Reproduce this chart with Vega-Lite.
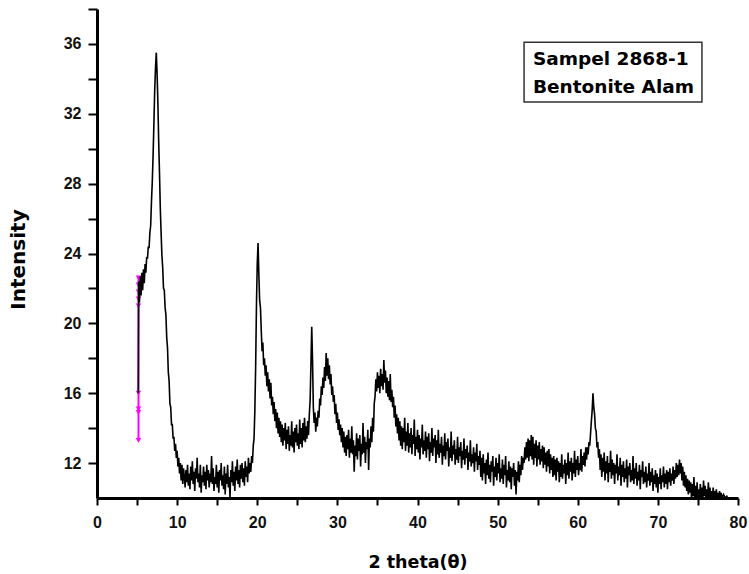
{
  "$schema": "https://vega.github.io/schema/vega-lite/v6.json",
  "width": 641,
  "height": 489,
  "autosize": "none",
  "padding": {"left": 97, "top": 9, "right": 11, "bottom": 76},
  "background": "white",
  "config": {"view": {"stroke": null}},
  "datasets": {
    "mag": [
      {"t": 5.18, "i": 22.6}, {"t": 5.18, "i": 22.2}, {"t": 5.18, "i": 21.8}, {"t": 5.18, "i": 21.4}, {"t": 5.18, "i": 21.0},
      {"t": 5.18, "i": 16.0}, {"t": 5.18, "i": 15.1}, {"t": 5.18, "i": 14.9}, {"t": 5.18, "i": 13.3}
    ],
    "note": [
      {"t": 54.4, "i": 34.79, "txt": "Sampel 2868-1"},
      {"t": 54.4, "i": 33.17, "txt": "Bentonite Alam"}
    ],
    "box": [
      {"t": 53.3, "t2": 75.5, "i": 36.1, "i2": 32.67}
    ],
    "xrd": [
      {"t":5.15,"i":16.0},{"t":5.2,"i":22.4},{"t":5.3,"i":21.2},{"t":5.4,"i":22.7},{"t":5.5,"i":21.6},{"t":5.6,"i":22.9},{"t":5.7,"i":21.9},{"t":5.8,"i":23.1},{"t":5.9,"i":22.3},{"t":6.0,"i":23.4},
      {"t":6.1,"i":22.9},{"t":6.2,"i":23.8},{"t":6.3,"i":23.7},{"t":6.4,"i":24.4},{"t":6.5,"i":24.3},{"t":6.6,"i":25.2},{"t":6.7,"i":25.6},{"t":6.8,"i":27.0},{"t":6.9,"i":28.1},{"t":7.0,"i":29.6},
      {"t":7.1,"i":31.4},{"t":7.2,"i":33.3},{"t":7.3,"i":34.6},{"t":7.4,"i":35.5},{"t":7.5,"i":34.3},{"t":7.6,"i":32.6},{"t":7.7,"i":30.4},{"t":7.8,"i":28.6},{"t":7.9,"i":26.6},{"t":8.0,"i":25.2},
      {"t":8.1,"i":23.9},{"t":8.2,"i":23.2},{"t":8.3,"i":22.0},{"t":8.4,"i":21.9},{"t":8.5,"i":20.9},{"t":8.6,"i":20.5},{"t":8.7,"i":19.2},{"t":8.8,"i":18.6},{"t":8.9,"i":17.2},{"t":9.0,"i":16.7},
      {"t":9.1,"i":15.4},{"t":9.2,"i":15.2},{"t":9.3,"i":14.2},{"t":9.4,"i":14.2},{"t":9.5,"i":13.4},{"t":9.6,"i":13.5},{"t":9.7,"i":12.7},{"t":9.8,"i":13.1},{"t":9.9,"i":12.3},{"t":10.0,"i":12.7},
      {"t":10.1,"i":11.8},{"t":10.2,"i":12.3},{"t":10.3,"i":11.4},{"t":10.4,"i":12.0},{"t":10.5,"i":11.0},{"t":10.6,"i":11.9},{"t":10.7,"i":10.8},{"t":10.8,"i":11.7},{"t":10.9,"i":11.2},{"t":11.0,"i":10.6},
      {"t":11.1,"i":11.6},{"t":11.2,"i":10.9},{"t":11.3,"i":11.9},{"t":11.4,"i":10.7},{"t":11.5,"i":11.4},{"t":11.6,"i":10.5},{"t":11.7,"i":11.8},{"t":11.8,"i":11.0},{"t":11.9,"i":12.1},{"t":12.0,"i":10.8},
      {"t":12.1,"i":11.5},{"t":12.2,"i":10.4},{"t":12.3,"i":11.7},{"t":12.4,"i":11.1},{"t":12.5,"i":12.3},{"t":12.6,"i":10.9},{"t":12.7,"i":11.4},{"t":12.8,"i":10.6},{"t":12.9,"i":11.9},{"t":13.0,"i":10.3},
      {"t":13.1,"i":11.3},{"t":13.2,"i":10.9},{"t":13.3,"i":11.8},{"t":13.4,"i":10.7},{"t":13.5,"i":11.5},{"t":13.6,"i":10.5},{"t":13.7,"i":11.9},{"t":13.8,"i":11.0},{"t":13.9,"i":11.6},{"t":14.0,"i":10.6},
      {"t":14.1,"i":11.4},{"t":14.2,"i":10.9},{"t":14.3,"i":12.4},{"t":14.4,"i":10.8},{"t":14.5,"i":11.7},{"t":14.6,"i":10.4},{"t":14.7,"i":11.2},{"t":14.8,"i":10.8},{"t":14.9,"i":11.9},{"t":15.0,"i":10.6},
      {"t":15.1,"i":11.5},{"t":15.2,"i":10.3},{"t":15.3,"i":11.6},{"t":15.4,"i":11.0},{"t":15.5,"i":12.0},{"t":15.6,"i":10.7},{"t":15.7,"i":11.3},{"t":15.8,"i":10.5},{"t":15.9,"i":11.8},{"t":16.0,"i":10.2},
      {"t":16.1,"i":11.4},{"t":16.2,"i":10.8},{"t":16.3,"i":11.9},{"t":16.4,"i":10.6},{"t":16.5,"i":11.2},{"t":16.6,"i":10.0},{"t":16.7,"i":11.6},{"t":16.8,"i":10.9},{"t":16.9,"i":12.1},{"t":17.0,"i":10.7},
      {"t":17.1,"i":11.5},{"t":17.2,"i":10.4},{"t":17.3,"i":11.8},{"t":17.4,"i":11.0},{"t":17.5,"i":12.2},{"t":17.6,"i":10.8},{"t":17.7,"i":11.6},{"t":17.8,"i":10.6},{"t":17.9,"i":11.9},{"t":18.0,"i":11.1},
      {"t":18.1,"i":12.0},{"t":18.2,"i":10.9},{"t":18.3,"i":11.7},{"t":18.4,"i":10.7},{"t":18.5,"i":12.1},{"t":18.6,"i":11.2},{"t":18.7,"i":11.8},{"t":18.8,"i":10.9},{"t":18.9,"i":12.3},{"t":19.0,"i":11.4},
      {"t":19.1,"i":12.0},{"t":19.2,"i":11.5},{"t":19.3,"i":12.4},{"t":19.4,"i":12.0},{"t":19.5,"i":13.0},{"t":19.6,"i":13.4},{"t":19.7,"i":15.0},{"t":19.8,"i":17.5},{"t":19.9,"i":21.0},{"t":20.0,"i":23.4},
      {"t":20.1,"i":24.6},{"t":20.2,"i":22.8},{"t":20.3,"i":21.3},{"t":20.4,"i":20.9},{"t":20.5,"i":19.6},{"t":20.6,"i":18.4},{"t":20.7,"i":18.9},{"t":20.8,"i":17.6},{"t":20.9,"i":18.0},{"t":21.0,"i":17.0},
      {"t":21.1,"i":17.6},{"t":21.2,"i":16.4},{"t":21.3,"i":17.2},{"t":21.4,"i":16.1},{"t":21.5,"i":16.8},{"t":21.6,"i":15.7},{"t":21.7,"i":16.6},{"t":21.8,"i":15.3},{"t":21.9,"i":15.8},{"t":22.0,"i":14.8},
      {"t":22.1,"i":15.5},{"t":22.2,"i":14.4},{"t":22.3,"i":15.1},{"t":22.4,"i":14.0},{"t":22.5,"i":14.9},{"t":22.6,"i":13.7},{"t":22.7,"i":14.6},{"t":22.8,"i":13.5},{"t":22.9,"i":14.4},{"t":23.0,"i":13.2},
      {"t":23.1,"i":14.2},{"t":23.2,"i":13.0},{"t":23.3,"i":14.0},{"t":23.4,"i":13.3},{"t":23.5,"i":14.3},{"t":23.6,"i":12.8},{"t":23.7,"i":13.9},{"t":23.8,"i":13.1},{"t":23.9,"i":14.1},{"t":24.0,"i":12.7},
      {"t":24.1,"i":13.6},{"t":24.2,"i":13.0},{"t":24.3,"i":14.4},{"t":24.4,"i":12.9},{"t":24.5,"i":13.8},{"t":24.6,"i":12.6},{"t":24.7,"i":14.0},{"t":24.8,"i":13.2},{"t":24.9,"i":14.2},{"t":25.0,"i":13.0},
      {"t":25.1,"i":13.7},{"t":25.2,"i":12.8},{"t":25.3,"i":14.5},{"t":25.4,"i":13.1},{"t":25.5,"i":14.0},{"t":25.6,"i":12.9},{"t":25.7,"i":14.3},{"t":25.8,"i":13.3},{"t":25.9,"i":14.6},{"t":26.0,"i":13.2},
      {"t":26.1,"i":14.1},{"t":26.2,"i":13.4},{"t":26.3,"i":14.4},{"t":26.4,"i":13.6},{"t":26.5,"i":14.8},{"t":26.6,"i":15.6},{"t":26.7,"i":17.6},{"t":26.8,"i":19.8},{"t":26.9,"i":17.9},{"t":27.0,"i":15.2},
      {"t":27.1,"i":14.3},{"t":27.2,"i":14.9},{"t":27.3,"i":13.8},{"t":27.4,"i":14.6},{"t":27.5,"i":14.1},{"t":27.6,"i":15.0},{"t":27.7,"i":14.6},{"t":27.8,"i":15.7},{"t":27.9,"i":15.3},{"t":28.0,"i":16.4},
      {"t":28.1,"i":15.9},{"t":28.2,"i":16.9},{"t":28.3,"i":16.3},{"t":28.4,"i":17.5},{"t":28.5,"i":16.7},{"t":28.6,"i":18.3},{"t":28.7,"i":17.0},{"t":28.8,"i":18.0},{"t":28.9,"i":16.8},{"t":29.0,"i":17.6},
      {"t":29.1,"i":16.5},{"t":29.2,"i":17.1},{"t":29.3,"i":15.9},{"t":29.4,"i":16.4},{"t":29.5,"i":15.5},{"t":29.6,"i":15.9},{"t":29.7,"i":14.8},{"t":29.8,"i":15.4},{"t":29.9,"i":14.3},{"t":30.0,"i":14.9},
      {"t":30.1,"i":13.9},{"t":30.2,"i":14.5},{"t":30.3,"i":13.6},{"t":30.4,"i":14.2},{"t":30.5,"i":13.2},{"t":30.6,"i":14.0},{"t":30.7,"i":12.9},{"t":30.8,"i":13.8},{"t":30.9,"i":12.6},{"t":31.0,"i":13.5},
      {"t":31.1,"i":12.4},{"t":31.2,"i":13.6},{"t":31.3,"i":12.8},{"t":31.4,"i":13.9},{"t":31.5,"i":12.3},{"t":31.6,"i":13.4},{"t":31.7,"i":12.6},{"t":31.8,"i":14.1},{"t":31.9,"i":12.5},{"t":32.0,"i":13.3},
      {"t":32.1,"i":11.5},{"t":32.2,"i":13.0},{"t":32.3,"i":12.4},{"t":32.4,"i":13.7},{"t":32.5,"i":12.2},{"t":32.6,"i":13.4},{"t":32.7,"i":12.7},{"t":32.8,"i":13.6},{"t":32.9,"i":11.8},{"t":33.0,"i":13.1},
      {"t":33.1,"i":12.5},{"t":33.2,"i":14.3},{"t":33.3,"i":12.6},{"t":33.4,"i":13.5},{"t":33.5,"i":12.0},{"t":33.6,"i":13.2},{"t":33.7,"i":12.8},{"t":33.8,"i":13.9},{"t":33.9,"i":11.6},{"t":34.0,"i":13.4},
      {"t":34.1,"i":12.9},{"t":34.2,"i":14.1},{"t":34.3,"i":13.2},{"t":34.4,"i":14.6},{"t":34.5,"i":13.8},{"t":34.6,"i":15.4},{"t":34.7,"i":15.8},{"t":34.8,"i":16.8},{"t":34.9,"i":16.1},{"t":35.0,"i":17.2},
      {"t":35.1,"i":16.3},{"t":35.2,"i":17.0},{"t":35.3,"i":16.0},{"t":35.4,"i":17.4},{"t":35.5,"i":16.4},{"t":35.6,"i":17.1},{"t":35.7,"i":16.2},{"t":35.8,"i":17.9},{"t":35.9,"i":16.6},{"t":36.0,"i":17.3},
      {"t":36.1,"i":16.0},{"t":36.2,"i":16.9},{"t":36.3,"i":15.8},{"t":36.4,"i":16.7},{"t":36.5,"i":15.6},{"t":36.6,"i":17.1},{"t":36.7,"i":15.5},{"t":36.8,"i":16.2},{"t":36.9,"i":15.2},{"t":37.0,"i":15.8},
      {"t":37.1,"i":14.6},{"t":37.2,"i":15.3},{"t":37.3,"i":14.1},{"t":37.4,"i":14.8},{"t":37.5,"i":13.7},{"t":37.6,"i":14.6},{"t":37.7,"i":13.3},{"t":37.8,"i":14.4},{"t":37.9,"i":13.0},{"t":38.0,"i":14.1},
      {"t":38.1,"i":12.8},{"t":38.2,"i":14.0},{"t":38.3,"i":13.2},{"t":38.4,"i":14.6},{"t":38.5,"i":12.7},{"t":38.6,"i":13.8},{"t":38.7,"i":13.0},{"t":38.8,"i":14.3},{"t":38.9,"i":12.6},{"t":39.0,"i":13.7},
      {"t":39.1,"i":12.9},{"t":39.2,"i":14.0},{"t":39.3,"i":12.5},{"t":39.4,"i":13.6},{"t":39.5,"i":13.1},{"t":39.6,"i":14.5},{"t":39.7,"i":12.4},{"t":39.8,"i":13.5},{"t":39.9,"i":12.8},{"t":40.0,"i":13.9},
      {"t":40.1,"i":12.6},{"t":40.2,"i":13.6},{"t":40.3,"i":12.2},{"t":40.4,"i":13.4},{"t":40.5,"i":12.9},{"t":40.6,"i":14.2},{"t":40.7,"i":12.5},{"t":40.8,"i":13.3},{"t":40.9,"i":12.7},{"t":41.0,"i":13.8},
      {"t":41.1,"i":12.3},{"t":41.2,"i":13.5},{"t":41.3,"i":12.8},{"t":41.4,"i":13.7},{"t":41.5,"i":12.1},{"t":41.6,"i":13.2},{"t":41.7,"i":12.6},{"t":41.8,"i":14.0},{"t":41.9,"i":12.4},{"t":42.0,"i":13.4},
      {"t":42.1,"i":12.9},{"t":42.2,"i":13.6},{"t":42.3,"i":12.0},{"t":42.4,"i":13.3},{"t":42.5,"i":12.5},{"t":42.6,"i":13.9},{"t":42.7,"i":12.3},{"t":42.8,"i":13.1},{"t":42.9,"i":12.6},{"t":43.0,"i":13.5},
      {"t":43.1,"i":11.9},{"t":43.2,"i":13.0},{"t":43.3,"i":12.4},{"t":43.4,"i":13.7},{"t":43.5,"i":12.2},{"t":43.6,"i":13.2},{"t":43.7,"i":12.7},{"t":43.8,"i":13.4},{"t":43.9,"i":11.8},{"t":44.0,"i":12.9},
      {"t":44.1,"i":12.3},{"t":44.2,"i":13.8},{"t":44.3,"i":12.1},{"t":44.4,"i":13.0},{"t":44.5,"i":12.5},{"t":44.6,"i":13.3},{"t":44.7,"i":11.9},{"t":44.8,"i":12.8},{"t":44.9,"i":12.2},{"t":45.0,"i":13.5},
      {"t":45.1,"i":12.0},{"t":45.2,"i":12.9},{"t":45.3,"i":12.4},{"t":45.4,"i":13.2},{"t":45.5,"i":11.7},{"t":45.6,"i":12.7},{"t":45.7,"i":12.2},{"t":45.8,"i":13.4},{"t":45.9,"i":11.9},{"t":46.0,"i":12.8},
      {"t":46.1,"i":12.3},{"t":46.2,"i":13.0},{"t":46.3,"i":11.6},{"t":46.4,"i":12.6},{"t":46.5,"i":12.1},{"t":46.6,"i":13.3},{"t":46.7,"i":11.8},{"t":46.8,"i":12.5},{"t":46.9,"i":12.0},{"t":47.0,"i":12.9},
      {"t":47.1,"i":11.5},{"t":47.2,"i":12.6},{"t":47.3,"i":12.1},{"t":47.4,"i":13.1},{"t":47.5,"i":11.6},{"t":47.6,"i":12.4},{"t":47.7,"i":11.9},{"t":47.8,"i":12.7},{"t":47.9,"i":11.2},{"t":48.0,"i":12.3},
      {"t":48.1,"i":11.0},{"t":48.2,"i":12.5},{"t":48.3,"i":11.4},{"t":48.4,"i":12.0},{"t":48.5,"i":10.8},{"t":48.6,"i":12.2},{"t":48.7,"i":11.3},{"t":48.8,"i":12.6},{"t":48.9,"i":11.1},{"t":49.0,"i":11.9},
      {"t":49.1,"i":10.9},{"t":49.2,"i":12.1},{"t":49.3,"i":11.5},{"t":49.4,"i":12.4},{"t":49.5,"i":10.7},{"t":49.6,"i":11.8},{"t":49.7,"i":11.2},{"t":49.8,"i":12.3},{"t":49.9,"i":11.0},{"t":50.0,"i":12.0},
      {"t":50.1,"i":11.4},{"t":50.2,"i":12.5},{"t":50.3,"i":10.9},{"t":50.4,"i":11.7},{"t":50.5,"i":11.1},{"t":50.6,"i":12.2},{"t":50.7,"i":10.8},{"t":50.8,"i":11.9},{"t":50.9,"i":11.3},{"t":51.0,"i":12.4},
      {"t":51.1,"i":10.6},{"t":51.2,"i":11.6},{"t":51.3,"i":11.0},{"t":51.4,"i":12.1},{"t":51.5,"i":10.9},{"t":51.6,"i":11.8},{"t":51.7,"i":10.5},{"t":51.8,"i":11.7},{"t":51.9,"i":11.2},{"t":52.0,"i":12.0},
      {"t":52.1,"i":10.7},{"t":52.2,"i":11.6},{"t":52.3,"i":10.2},{"t":52.4,"i":11.5},{"t":52.5,"i":11.0},{"t":52.6,"i":12.1},{"t":52.7,"i":10.9},{"t":52.8,"i":11.9},{"t":52.9,"i":11.3},{"t":53.0,"i":12.4},
      {"t":53.1,"i":11.6},{"t":53.2,"i":12.3},{"t":53.3,"i":12.0},{"t":53.4,"i":12.9},{"t":53.5,"i":12.2},{"t":53.6,"i":13.2},{"t":53.7,"i":12.3},{"t":53.8,"i":13.4},{"t":53.9,"i":12.1},{"t":54.0,"i":13.3},
      {"t":54.1,"i":12.4},{"t":54.2,"i":13.6},{"t":54.3,"i":12.2},{"t":54.4,"i":13.5},{"t":54.5,"i":11.9},{"t":54.6,"i":13.1},{"t":54.7,"i":12.3},{"t":54.8,"i":13.3},{"t":54.9,"i":11.8},{"t":55.0,"i":13.0},
      {"t":55.1,"i":12.2},{"t":55.2,"i":13.2},{"t":55.3,"i":11.9},{"t":55.4,"i":12.8},{"t":55.5,"i":12.1},{"t":55.6,"i":13.0},{"t":55.7,"i":11.7},{"t":55.8,"i":12.9},{"t":55.9,"i":11.9},{"t":56.0,"i":12.6},
      {"t":56.1,"i":11.5},{"t":56.2,"i":12.7},{"t":56.3,"i":11.8},{"t":56.4,"i":12.8},{"t":56.5,"i":11.4},{"t":56.6,"i":12.5},{"t":56.7,"i":11.6},{"t":56.8,"i":12.3},{"t":56.9,"i":11.2},{"t":57.0,"i":12.4},
      {"t":57.1,"i":11.3},{"t":57.2,"i":12.2},{"t":57.3,"i":11.0},{"t":57.4,"i":12.3},{"t":57.5,"i":11.5},{"t":57.6,"i":12.1},{"t":57.7,"i":10.9},{"t":57.8,"i":12.0},{"t":57.9,"i":11.2},{"t":58.0,"i":12.5},
      {"t":58.1,"i":11.1},{"t":58.2,"i":11.9},{"t":58.3,"i":11.4},{"t":58.4,"i":12.2},{"t":58.5,"i":10.8},{"t":58.6,"i":12.0},{"t":58.7,"i":11.3},{"t":58.8,"i":12.6},{"t":58.9,"i":11.1},{"t":59.0,"i":12.1},
      {"t":59.1,"i":11.5},{"t":59.2,"i":12.3},{"t":59.3,"i":11.0},{"t":59.4,"i":12.0},{"t":59.5,"i":11.4},{"t":59.6,"i":12.7},{"t":59.7,"i":11.2},{"t":59.8,"i":12.2},{"t":59.9,"i":11.6},{"t":60.0,"i":12.4},
      {"t":60.1,"i":11.3},{"t":60.2,"i":12.0},{"t":60.3,"i":11.6},{"t":60.4,"i":12.8},{"t":60.5,"i":11.5},{"t":60.6,"i":12.4},{"t":60.7,"i":11.9},{"t":60.8,"i":12.6},{"t":60.9,"i":11.8},{"t":61.0,"i":12.9},
      {"t":61.1,"i":12.2},{"t":61.2,"i":12.9},{"t":61.3,"i":12.5},{"t":61.4,"i":13.2},{"t":61.5,"i":13.0},{"t":61.6,"i":13.7},{"t":61.7,"i":14.4},{"t":61.8,"i":15.0},{"t":61.9,"i":16.0},{"t":62.0,"i":15.2},
      {"t":62.1,"i":14.8},{"t":62.2,"i":14.0},{"t":62.3,"i":13.8},{"t":62.4,"i":12.9},{"t":62.5,"i":13.2},{"t":62.6,"i":12.3},{"t":62.7,"i":12.8},{"t":62.8,"i":11.6},{"t":62.9,"i":12.5},{"t":63.0,"i":11.2},
      {"t":63.1,"i":12.3},{"t":63.2,"i":11.5},{"t":63.3,"i":12.6},{"t":63.4,"i":11.0},{"t":63.5,"i":12.1},{"t":63.6,"i":11.4},{"t":63.7,"i":12.4},{"t":63.8,"i":10.9},{"t":63.9,"i":12.0},{"t":64.0,"i":11.5},
      {"t":64.1,"i":12.7},{"t":64.2,"i":11.1},{"t":64.3,"i":12.2},{"t":64.4,"i":11.3},{"t":64.5,"i":12.0},{"t":64.6,"i":10.8},{"t":64.7,"i":11.9},{"t":64.8,"i":11.4},{"t":64.9,"i":12.5},{"t":65.0,"i":11.0},
      {"t":65.1,"i":11.8},{"t":65.2,"i":11.3},{"t":65.3,"i":12.3},{"t":65.4,"i":10.7},{"t":65.5,"i":11.9},{"t":65.6,"i":11.2},{"t":65.7,"i":12.1},{"t":65.8,"i":10.9},{"t":65.9,"i":11.7},{"t":66.0,"i":11.1},
      {"t":66.1,"i":12.2},{"t":66.2,"i":10.6},{"t":66.3,"i":11.8},{"t":66.4,"i":11.3},{"t":66.5,"i":12.0},{"t":66.6,"i":10.9},{"t":66.7,"i":11.6},{"t":66.8,"i":11.0},{"t":66.9,"i":12.4},{"t":67.0,"i":10.8},
      {"t":67.1,"i":11.7},{"t":67.2,"i":11.1},{"t":67.3,"i":12.0},{"t":67.4,"i":10.7},{"t":67.5,"i":11.5},{"t":67.6,"i":11.0},{"t":67.7,"i":11.9},{"t":67.8,"i":10.5},{"t":67.9,"i":11.6},{"t":68.0,"i":11.2},
      {"t":68.1,"i":12.1},{"t":68.2,"i":10.8},{"t":68.3,"i":11.5},{"t":68.4,"i":10.9},{"t":68.5,"i":11.8},{"t":68.6,"i":10.6},{"t":68.7,"i":11.4},{"t":68.8,"i":11.0},{"t":68.9,"i":12.0},{"t":69.0,"i":10.7},
      {"t":69.1,"i":11.5},{"t":69.2,"i":10.9},{"t":69.3,"i":11.7},{"t":69.4,"i":10.4},{"t":69.5,"i":11.3},{"t":69.6,"i":10.8},{"t":69.7,"i":11.6},{"t":69.8,"i":10.6},{"t":69.9,"i":11.4},{"t":70.0,"i":10.3},
      {"t":70.1,"i":11.2},{"t":70.2,"i":10.8},{"t":70.3,"i":11.7},{"t":70.4,"i":10.5},{"t":70.5,"i":11.3},{"t":70.6,"i":10.9},{"t":70.7,"i":11.8},{"t":70.8,"i":10.6},{"t":70.9,"i":11.4},{"t":71.0,"i":10.8},
      {"t":71.1,"i":11.6},{"t":71.2,"i":10.5},{"t":71.3,"i":11.5},{"t":71.4,"i":10.9},{"t":71.5,"i":11.7},{"t":71.6,"i":10.7},{"t":71.7,"i":11.4},{"t":71.8,"i":11.0},{"t":71.9,"i":11.8},{"t":72.0,"i":10.8},
      {"t":72.1,"i":11.6},{"t":72.2,"i":11.1},{"t":72.3,"i":12.0},{"t":72.4,"i":11.2},{"t":72.5,"i":11.9},{"t":72.6,"i":11.3},{"t":72.7,"i":12.2},{"t":72.8,"i":11.4},{"t":72.9,"i":12.0},{"t":73.0,"i":11.0},
      {"t":73.1,"i":11.8},{"t":73.2,"i":10.7},{"t":73.3,"i":11.5},{"t":73.4,"i":10.6},{"t":73.5,"i":11.3},{"t":73.6,"i":10.4},{"t":73.7,"i":11.1},{"t":73.8,"i":10.2},{"t":73.9,"i":11.0},{"t":74.0,"i":10.3},
      {"t":74.1,"i":10.9},{"t":74.2,"i":9.9},{"t":74.3,"i":10.8},{"t":74.4,"i":10.1},{"t":74.5,"i":11.2},{"t":74.6,"i":9.8},{"t":74.7,"i":10.7},{"t":74.8,"i":10.0},{"t":74.9,"i":10.9},{"t":75.0,"i":9.7},
      {"t":75.1,"i":10.5},{"t":75.2,"i":9.9},{"t":75.3,"i":10.8},{"t":75.4,"i":10.0},{"t":75.5,"i":10.6},{"t":75.6,"i":9.8},{"t":75.7,"i":11.0},{"t":75.8,"i":10.1},{"t":75.9,"i":10.7},{"t":76.0,"i":9.9},
      {"t":76.1,"i":10.5},{"t":76.2,"i":9.8},{"t":76.3,"i":10.9},{"t":76.4,"i":10.0},{"t":76.5,"i":10.6},{"t":76.6,"i":9.9},{"t":76.7,"i":10.4},{"t":76.8,"i":9.8},{"t":76.9,"i":10.6},{"t":77.0,"i":10.0},
      {"t":77.1,"i":10.4},{"t":77.2,"i":9.9},{"t":77.3,"i":10.5},{"t":77.4,"i":10.0},{"t":77.5,"i":10.3},{"t":77.6,"i":9.9},{"t":77.7,"i":10.4},{"t":77.8,"i":10.0},{"t":77.9,"i":10.3},{"t":78.0,"i":10.0},
      {"t":78.2,"i":10.2},{"t":78.4,"i":10.0},{"t":78.6,"i":10.1},{"t":78.7,"i":10.0}
    ]
  },
  "encoding": {
    "x": {
      "field": "t", "type": "quantitative",
      "scale": {"domain": [0, 80], "nice": false, "zero": false},
      "axis": {
        "title": "2 theta(θ)",
        "values": [0, 5, 10, 15, 20, 25, 30, 35, 40, 45, 50, 55, 60, 65, 70, 75, 80],
        "labelExpr": "datum.value % 10 === 0 ? datum.label : ''",
        "grid": false,
        "domainColor": "#000", "domainWidth": 3,
        "tickColor": "#000", "tickWidth": 2, "tickSize": 7,
        "labelFont": "Liberation Sans", "labelFontWeight": "bold", "labelFontSize": 16, "labelColor": "#111",
        "labelPadding": 9, "labelFlush": false, "labelOverlap": false,
        "titleFont": "DejaVu Sans", "titleFontWeight": "bold", "titleFontSize": 17.5, "titleColor": "#000",
        "titleBaseline": "alphabetic", "titleY": 69,
        "encode": {"ticks": {"update": {"y2": {"signal": "datum.value % 10 === 0 ? 7 : 4"}}}}
      }
    },
    "y": {
      "field": "i", "type": "quantitative",
      "scale": {"domain": [10, 38], "nice": false, "zero": false},
      "axis": {
        "title": "Intensity",
        "values": [12, 14, 16, 18, 20, 22, 24, 26, 28, 30, 32, 34, 36, 38],
        "labelExpr": "datum.value % 4 === 0 ? datum.label : ''",
        "grid": false,
        "domainColor": "#000", "domainWidth": 3,
        "tickColor": "#000", "tickWidth": 2, "tickSize": 9,
        "labelFont": "Liberation Sans", "labelFontWeight": "bold", "labelFontSize": 16, "labelColor": "#111",
        "labelPadding": 7, "labelOverlap": false,
        "titleFont": "DejaVu Sans", "titleFontWeight": "bold", "titleFontSize": 20, "titleColor": "#000",
        "titleAngle": -90, "titleBaseline": "middle", "titleX": -79, "titleY": 250, "titleAlign": "center",
        "encode": {"ticks": {"update": {"x2": {"signal": "datum.value % 4 === 0 ? -9 : -6"}}}}
      }
    }
  },
  "layer": [
    {
      "data": {"name": "mag"},
      "mark": {"type": "line", "color": "#ff00ff", "strokeWidth": 2},
      "encoding": {"order": {"field": "i", "type": "quantitative"}}
    },
    {
      "data": {"name": "mag"},
      "mark": {"type": "point", "shape": "triangle-down", "filled": true, "color": "#ff00ff", "size": 30, "opacity": 1}
    },
    {
      "data": {"name": "xrd"},
      "mark": {"type": "line", "color": "#000", "strokeWidth": 1.6, "clip": true},
      "encoding": {}
    },
    {
      "data": {"name": "box"},
      "mark": {"type": "rect", "fill": "white", "stroke": "#333", "strokeWidth": 1.5},
      "encoding": {
        "x2": {"field": "t2"},
        "y2": {"field": "i2"}
      }
    },
    {
      "data": {"name": "note"},
      "mark": {"type": "text", "align": "left", "baseline": "alphabetic", "font": "DejaVu Sans", "fontWeight": "bold", "fontSize": 18.5, "color": "#000"},
      "encoding": {"text": {"field": "txt"}}
    }
  ]
}
